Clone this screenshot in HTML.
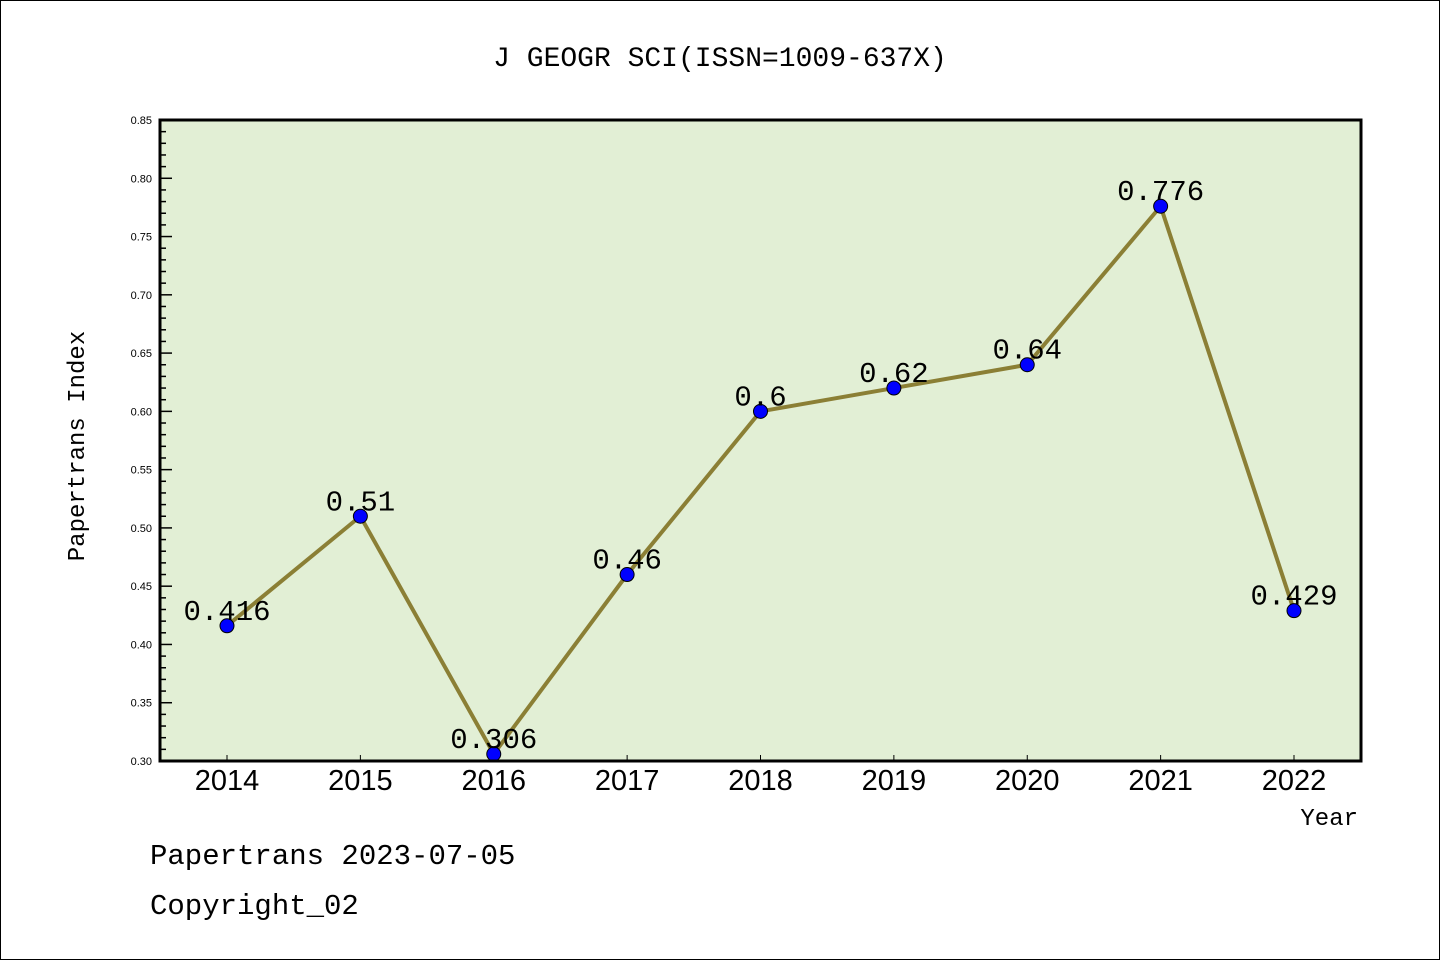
<!DOCTYPE html>
<html><head><meta charset="utf-8"><style>
html,body{margin:0;padding:0;background:#fff;}
svg{display:block;}
</style></head><body>
<svg width="1440" height="960" xmlns="http://www.w3.org/2000/svg" font-family="'Liberation Sans','DejaVu Sans',sans-serif">
<rect x="0.5" y="0.5" width="1439" height="959" fill="#fff" stroke="#000" stroke-width="1"/>
<text x="720" y="66" text-anchor="middle" font-size="28" font-family="'Liberation Mono','DejaVu Sans Mono',monospace">J GEOGR SCI(ISSN=1009-637X)</text>
<rect x="160" y="120" width="1201" height="641" fill="#e2efd5"/>
<g id="yaxis"></g>
<g id="xaxis"></g>
<g id="series"></g>
<rect x="160" y="120" width="1201" height="641" fill="none" stroke="#000" stroke-width="3"/>
<text transform="translate(84,446) rotate(-90)" text-anchor="middle" font-size="24" font-family="'Liberation Mono','DejaVu Sans Mono',monospace">Papertrans Index</text>
<text x="1358" y="825" text-anchor="end" font-size="24" font-family="'Liberation Mono','DejaVu Sans Mono',monospace">Year</text>
<text x="150" y="864" font-size="29" font-family="'Liberation Mono','DejaVu Sans Mono',monospace">Papertrans 2023-07-05</text>
<text x="150" y="914" font-size="29" font-family="'Liberation Mono','DejaVu Sans Mono',monospace">Copyright_02</text>
</svg>
<script>
const years = ['2014','2015','2016','2017','2018','2019','2020','2021','2022'];
const values = [0.416,0.51,0.306,0.46,0.6,0.62,0.64,0.776,0.429];
const valueLabels = ['0.416','0.51','0.306','0.46','0.6','0.62','0.64','0.776','0.429'];
const yTicks = [0.30,0.35,0.40,0.45,0.50,0.55,0.60,0.65,0.70,0.75,0.80,0.85];
const NS='http://www.w3.org/2000/svg';
const yMin=0.30,yMax=0.85,plotTop=120,plotBot=761;
function ys(v){return plotBot-(v-yMin)/(yMax-yMin)*(plotBot-plotTop);}
function xs(i){return 227+i*(1294-227)/(years.length-1);}
function mk(t,a,p){const e=document.createElementNS(NS,t);for(const k in a)e.setAttribute(k,a[k]);p.appendChild(e);return e;}
const ya=document.getElementById('yaxis'),xa=document.getElementById('xaxis'),sg=document.getElementById('series');
yTicks.forEach((v,i)=>{
  const y=ys(v);
  const l=mk('line',{x1:160,x2:172,y1:y,y2:y,stroke:'#000','stroke-width':1.5},ya);
  
  
  const t=mk('text',{x:152,y:y+4,'text-anchor':'end','font-size':11},ya);
  
  
  t.textContent=v.toFixed(2);
  if(i<yTicks.length-1){
    for(let k=1;k<5;k++){
      const yy=ys(v+k*0.01);
      const m=mk('line',{x1:160,x2:166,y1:yy,y2:yy,stroke:'#000','stroke-width':1.5},ya);
      
      
    }
  }
});
years.forEach((yr,i)=>{
  const x=xs(i);
  const l=mk('line',{x1:x,x2:x,y1:plotBot,y2:plotBot-6,stroke:'#000','stroke-width':1},xa);
  
  
  const t=mk('text',{x:x,y:790,'text-anchor':'middle','font-size':29},xa);
  
  
  t.textContent=yr;
});
const pts=values.map((v,i)=>xs(i)+','+ys(v)).join(' ');
const pl=mk('polyline',{points:pts,fill:'none',stroke:'#8b7f35','stroke-width':4},sg);


values.forEach((v,i)=>{
  const c=mk('circle',{cx:xs(i),cy:ys(v),r:7,fill:'#0000ff',stroke:'#000','stroke-width':1},sg);
  
  
  const t=mk('text',{x:xs(i),y:ys(v)-6,'text-anchor':'middle','font-size':29,'font-family':"'Liberation Mono','DejaVu Sans Mono',monospace"},sg);
  
  
  t.textContent=valueLabels[i];
});
</script>
</body></html>
